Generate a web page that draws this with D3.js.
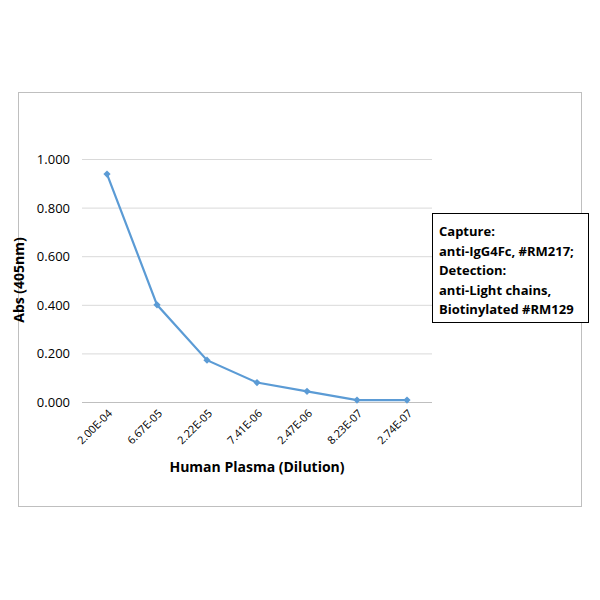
<!DOCTYPE html>
<html><head><meta charset="utf-8">
<script src="https://cdn.jsdelivr.net/npm/d3@7"></script>
<style>body{margin:0;background:#fff;font-family:"Open Sans","Liberation Sans",sans-serif;}</style>
</head><body>
<script>
// data
var dilutions = ["2.00E-04", "6.67E-05", "2.22E-05", "7.41E-06", "2.47E-06", "8.23E-07", "2.74E-07"];
var absValues = [0.938, 0.400, 0.172, 0.080, 0.044, 0.008, 0.008];
var yTicks = [0, 0.2, 0.4, 0.6, 0.8, 1.0];
var legendLines = ["Capture:", "anti-IgG4Fc, #RM217;", "Detection:", "anti-Light chains,", "Biotinylated #RM129"];

var svg = d3.select("body").append("svg").attr("width", 600).attr("height", 600);
svg.append("rect").attr("x", 18.5).attr("y", 92.5).attr("width", 563).attr("height", 414)
  .attr("fill", "#fff").attr("stroke", "#bfbfbf");

var margin = {left: 82, right: 432, top: 159, bottom: 402};
var x = d3.scalePoint().domain(dilutions).range([margin.left, margin.right]).padding(0.5);
var y = d3.scaleLinear().domain([0, 1]).range([margin.bottom, margin.top]);

// gridlines
svg.append("g").selectAll("line").data(yTicks).join("line")
  .attr("x1", margin.left).attr("x2", margin.right)
  .attr("y1", d => y(d) + 0.5).attr("y2", d => y(d) + 0.5)
  .attr("stroke", "#d9d9d9");

// y axis labels
svg.append("g").selectAll("text").data(yTicks).join("text")
  .attr("x", 70).attr("y", d => y(d) + 5).attr("text-anchor", "end")
  .attr("font-size", 13).attr("fill", "#000").text(d => d3.format(".3f")(d));

// x axis
svg.append("line").attr("x1", margin.left).attr("x2", margin.right)
  .attr("y1", margin.bottom + 0.5).attr("y2", margin.bottom + 0.5).attr("stroke", "#bfbfbf");
svg.append("g").selectAll("text").data(dilutions).join("text")
  .attr("transform", d => "translate(" + (x(d) + 6) + "," + (margin.bottom + 12) + ") rotate(-45)")
  .attr("text-anchor", "end").attr("font-size", 11).attr("fill", "#000").text(d => d);

// line
var line = d3.line().x((d, i) => x(dilutions[i])).y(d => y(d));
svg.append("path").datum(absValues).attr("d", line)
  .attr("fill", "none").attr("stroke", "#5b9bd5").attr("stroke-width", 2.2);
svg.append("g").selectAll("path").data(absValues).join("path")
  .attr("d", d3.symbol().type(d3.symbolSquare).size(26))
  .attr("transform", (d, i) => "translate(" + x(dilutions[i]) + "," + y(d) + ") rotate(45)")
  .attr("fill", "#5b9bd5");

// axis titles
svg.append("text").attr("x", 257).attr("y", 472).attr("text-anchor", "middle")
  .attr("font-size", 14).attr("font-weight", "bold").text("Human Plasma (Dilution)");
svg.append("text").attr("transform", "translate(24,280) rotate(-90)").attr("text-anchor", "middle")
  .attr("font-size", 14).attr("font-weight", "bold").text("Abs (405nm)");

// legend
svg.append("rect").attr("x", 432.5).attr("y", 213.5).attr("width", 156).attr("height", 109)
  .attr("fill", "#fff").attr("stroke", "#000");
svg.append("g").selectAll("text").data(legendLines).join("text")
  .attr("x", 439).attr("y", (d, i) => 236 + i * 19.5)
  .attr("font-size", 13).attr("font-weight", "bold").text(d => d);
</script>
</body></html>
